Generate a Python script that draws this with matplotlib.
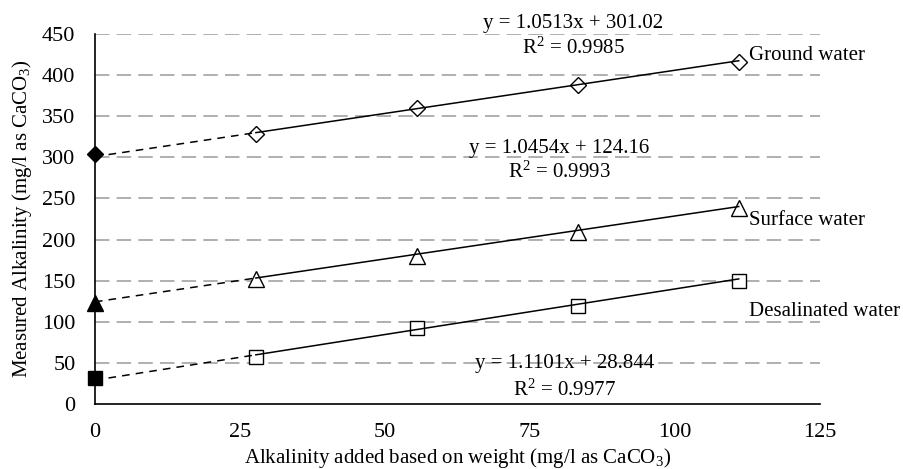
import numpy as np
import matplotlib
matplotlib.use("Agg")
import matplotlib.pyplot as plt

plt.rcParams["font.family"] = ["Liberation Serif", "DejaVu Serif"]
plt.rcParams["mathtext.fontset"] = "custom"
plt.rcParams["mathtext.rm"] = "Liberation Serif"
plt.rcParams["mathtext.it"] = "Liberation Serif:italic"

# alkalinity added (mg/l as CaCO3)
x_added = [27.75, 55.5, 83.25, 111.0]

ground = [328, 360, 388, 416]
surface = [152, 180, 209, 239]
desal = [57, 92, 119, 150]

# intercept points (x = 0)
ground0 = 304
surface0 = 123
desal0 = 31

# trendline coefficients
slopes = [1.0513, 1.0454, 1.1101]
intercepts = [301.02, 124.16, 28.844]
r2 = [0.9985, 0.9993, 0.9977]

names = ["Ground water", "Surface water", "Desalinated water"]


def draw_series(ax, y, y0, slope, icpt, marker, msize):
    xs = np.array(x_added)
    # dashed extrapolation to zero
    ax.plot([0, xs[0]], [icpt, slope * xs[0] + icpt], color="black",
            lw=1.1, ls=(0, (5, 4)), zorder=3)
    ax.plot([xs[0], xs[-1]], [slope * xs[0] + icpt, slope * xs[-1] + icpt],
            color="black", lw=1.1, zorder=3)
    ax.plot(xs, y, ls="none", marker=marker, ms=msize, mfc="white",
            mec="black", mew=1.0, zorder=2)
    ax.plot([0], [y0], ls="none", marker=marker, ms=msize, mfc="black",
            mec="black", zorder=4, clip_on=False)


fig, ax = plt.subplots(figsize=(9.04, 4.69), dpi=100)
fig.subplots_adjust(left=0.105, right=0.907, top=0.927, bottom=0.139)

draw_series(ax, ground, ground0, slopes[0], intercepts[0], "D", 8)
draw_series(ax, surface, surface0, slopes[1], intercepts[1], "^", 11)
draw_series(ax, desal, desal0, slopes[2], intercepts[2], "s", 10)

ax.set_xlim(0, 125)
ax.set_ylim(0, 450)
ax.set_xticks(np.arange(0, 126, 25))
ax.set_yticks(np.arange(0, 451, 50))
ax.tick_params(length=0, labelsize=16)
ax.tick_params(axis="y", pad=14)
ax.tick_params(axis="x", pad=14)

for yv in np.arange(50, 451, 50):
    ax.axhline(yv, color="#a9a9a9", lw=1.3, ls=(0, (8, 4)), zorder=0)

for s in ["top", "right"]:
    ax.spines[s].set_visible(False)
for s in ["left", "bottom"]:
    ax.spines[s].set_linewidth(1.2)

ax.set_xlabel("Alkalinity added based on weight (mg/l as CaCO$_3$)",
              fontsize=15, labelpad=3)
ax.set_ylabel("Measured Alkalinity (mg/l as CaCO$_3$)", fontsize=15,
              labelpad=6)

# trendline labels
eq_pos = [(82.5, 463, 433), (80, 311, 282), (81, 49, 16)]
for (xc, ye, yr), m, b, r in zip(eq_pos, slopes, intercepts, r2):
    ax.text(xc, ye, "y = %gx + %g" % (m, b), ha="center", va="center",
            fontsize=15, clip_on=False)
    ax.text(xc, yr, "R$^2$ = %g" % r, ha="center", va="center",
            fontsize=15, clip_on=False)

name_pos = [(112.8, 424), (112.8, 223), (112.8, 112)]
for (xn, yn), n in zip(name_pos, names):
    ax.text(xn, yn, n, ha="left", va="center", fontsize=15, clip_on=False)

fig.savefig("out.png", dpi=100)
